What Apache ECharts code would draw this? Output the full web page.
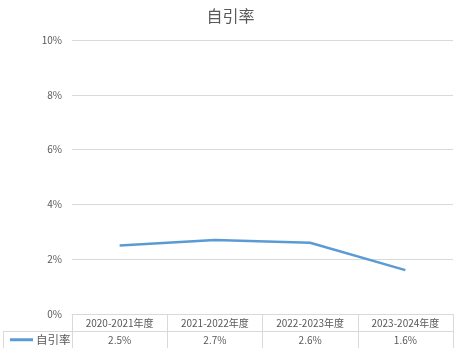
<!DOCTYPE html>
<html>
<head>
<meta charset="utf-8">
<script src="https://cdn.jsdelivr.net/npm/echarts@6/dist/echarts.min.js"></script>
<style>
html,body{margin:0;padding:0;background:#fff;}
#chart{width:461px;height:357px;}
</style>
</head>
<body>
<div id="chart"></div>
<script>
const titleText = '自引率';
const seriesName = '自引率';
const categories = ['2020-2021年度', '2021-2022年度', '2022-2023年度', '2023-2024年度'];
const values = [2.5, 2.7, 2.6, 1.6];
const yTicks = [0, 2, 4, 6, 8, 10];

const gray = '#595959';
const lineGray = '#d9d9d9';
const font = '"Noto Sans CJK SC", "Noto Sans", sans-serif';

const chart = echarts.init(document.getElementById('chart'));
chart.setOption({
  animation: false,
  backgroundColor: '#fff',
  title: {
    text: titleText,
    left: 'center',
    top: 3,
    textStyle: { color: gray, fontSize: 16, fontWeight: 'normal', fontFamily: font }
  },
  legend: {
    data: [seriesName],
    left: 10,
    top: 334,
    padding: 0,
    icon: 'rect',
    itemWidth: 23,
    itemHeight: 3,
    textStyle: { color: gray, fontSize: 11.5, fontFamily: font, padding: [0, 0, 0, -2] }
  },
  grid: { left: 72, right: 8, top: 40, bottom: 43 },
  xAxis: [
    {
      type: 'category',
      data: categories,
      position: 'bottom',
      boundaryGap: true,
      axisLine: { show: true, lineStyle: { color: lineGray, width: 1 } },
      axisTick: { show: true, interval: 0, length: 34, lineStyle: { color: lineGray, width: 1 } },
      axisLabel: { interval: 0, margin: 4, color: gray, fontSize: 10, fontFamily: font },
      splitLine: { show: false }
    },
    {
      type: 'category',
      data: categories,
      position: 'bottom',
      offset: 17,
      boundaryGap: true,
      axisLine: { show: true, lineStyle: { color: lineGray, width: 1 } },
      axisTick: { show: false },
      axisLabel: {
        interval: 0, margin: 4, color: gray, fontSize: 10, fontFamily: font,
        formatter: function (v, i) { return values[i].toFixed(1) + '%'; }
      },
      splitLine: { show: false }
    }
  ],
  yAxis: {
    type: 'value',
    min: yTicks[0],
    max: yTicks[yTicks.length - 1],
    interval: 2,
    axisLine: { show: false },
    axisTick: { show: false },
    axisLabel: { margin: 10, color: gray, fontSize: 10, fontFamily: font, formatter: '{value}%' },
    splitLine: { show: true, lineStyle: { color: lineGray, width: 1 } }
  },
  graphic: [
    { type: 'line', shape: { x1: 3, y1: 331.5, x2: 72, y2: 331.5 }, style: { stroke: lineGray, lineWidth: 1 }, silent: true },
    { type: 'line', shape: { x1: 3.5, y1: 331, x2: 3.5, y2: 348 }, style: { stroke: lineGray, lineWidth: 1 }, silent: true }
  ],
  series: [
    {
      name: seriesName,
      type: 'line',
      data: values,
      symbol: 'none',
      lineStyle: { color: '#5B9BD5', width: 2.5 },
      itemStyle: { color: '#5B9BD5' }
    }
  ]
});
</script>
</body>
</html>
